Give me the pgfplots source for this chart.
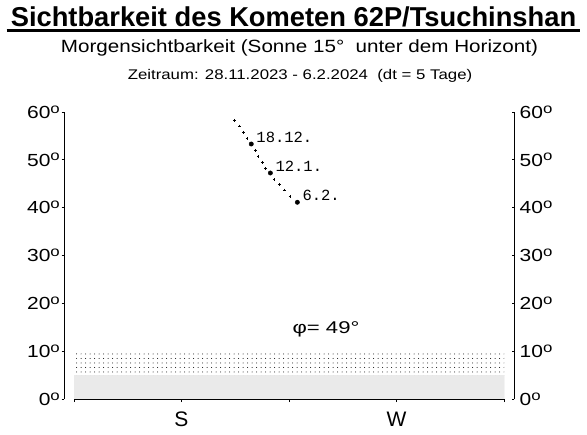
\documentclass[border=0pt]{standalone}
\usepackage{pgfplots}
\pgfplotsset{compat=1.18}
\usepackage{pgfplotstable}
\usepackage{fontspec}
\setmainfont{Liberation Sans}
\setmonofont{Liberation Mono}
\newfontfamily\wide{Liberation Sans}[FakeStretch=1.2]
\newfontfamily\wideB{Liberation Sans}[FakeStretch=1.165]
\newfontfamily\wideC{Liberation Sans}[FakeStretch=1.3]
\usetikzlibrary{patterns.meta}
\newcommand\dg{\raisebox{0.3em}{\scalebox{0.8}{o}}}

\pgfplotstableread{
az alt
202.1 58.27
204.2 57.08
205.9 55.76
207.5 54.50
209.2 53.31
210.9 52.00
212.1 50.74
213.8 49.49
215.2 48.23
217.2 47.25
218.8 45.93
220.9 44.89
223.0 43.70
225.4 42.38
228.5 41.13
}\track

\pgfplotstableread{
az alt label
209.2 53.31 18.12.
217.2 47.25 12.1.
228.5 41.13 6.2.
}\dates

\begin{document}
\begin{tikzpicture}[x=1bp,y=1bp]
\useasboundingbox (0bp,0bp) rectangle (587bp,435bp);
\node[anchor=base, inner sep=0] at (293.5bp,408.3bp) {\fontsize{27.3bp}{30bp}\selectfont\bfseries Sichtbarkeit des Kometen 62P/Tsuchinshan};
\draw[line width=2.7bp] (6.7bp,404.3bp) -- (580bp,404.3bp);
\node[anchor=base, inner sep=0] at (299.5bp,382.3bp) {\fontsize{17.7bp}{20bp}\selectfont\wideB Morgensichtbarkeit (Sonne 15°\ \ unter dem Horizont)};
\node[anchor=base, inner sep=0] at (300bp,355.7bp) {\fontsize{14bp}{16bp}\selectfont\wide Zeitraum: 28.11.2023 - 6.2.2024\ \ (dt = 5 Tage)};

% left y axis
\begin{axis}[at={(64bp,36bp)}, anchor=south west, scale only axis,
  width=450bp, height=287bp, xmin=0, xmax=1, ymin=0, ymax=60,
  axis x line=none, axis y line*=left, y axis line style={-, line width=0.8bp},
  ytick={0,10,20,30,40,50,60},
  yticklabels={0\dg,10\dg,20\dg,30\dg,40\dg,50\dg,60\dg},
  tick align=outside, major tick length=2.5bp,
  every tick/.style={black, line width=0.8bp},
  yticklabel style={font=\fontsize{17.5bp}{19bp}\selectfont\wide, inner sep=0pt, anchor=east, xshift=-1.5bp}]
\end{axis}
% right y axis
\begin{axis}[at={(64bp,36bp)}, anchor=south west, scale only axis,
  width=450bp, height=287bp, xmin=0, xmax=1, ymin=0, ymax=60,
  axis x line=none, axis y line*=right, y axis line style={-, line width=0.8bp},
  ytick={0,10,20,30,40,50,60},
  yticklabels={0\dg,10\dg,20\dg,30\dg,40\dg,50\dg,60\dg},
  tick align=inside, major tick length=2.5bp,
  every tick/.style={black, line width=0.8bp},
  yticklabel style={font=\fontsize{17.5bp}{19bp}\selectfont\wide, inner sep=0pt, anchor=west, xshift=5.5bp}]
\end{axis}
% main axis
\begin{axis}[at={(74bp,36bp)}, anchor=south west, scale only axis,
  width=430bp, height=287bp, xmin=135, xmax=315, ymin=0, ymax=60,
  axis y line=none, axis x line*=bottom, x axis line style={-, line width=0.8bp},
  xtick={135,180,225,270,315}, xticklabels={,S,,W,},
  tick align=outside, major tick length=3bp,
  every tick/.style={black, line width=0.8bp},
  xticklabel style={font=\fontsize{21bp}{23bp}\selectfont, inner sep=0pt, anchor=base, yshift=-24.3bp},
  clip=false]
\addplot[draw=none, pattern={Dots[distance=2bp, radius=0.42bp]}, pattern color=black]
  coordinates {(135,0) (135,5) (315,5) (315,0)} -- cycle;
\addplot[draw=none, pattern={Dots[distance=4.5bp, radius=0.5bp]}, pattern color=black]
  coordinates {(135,5) (135,9.5) (315,9.5) (315,5)} -- cycle;
\addplot[only marks, mark=+, mark size=1.3bp, mark options={line width=0.6bp}, black] table[x=az, y=alt] {\track};
\addplot[only marks, mark=*, mark size=2.2bp, black,
  nodes near coords, point meta=explicit symbolic,
  nodes near coords style={anchor=west, inner sep=0pt, xshift=5bp, yshift=7bp, font=\fontsize{15.5bp}{17bp}\selectfont\ttfamily, black}]
  table[x=az, y=alt, meta=label] {\dates};
\node[font=\fontsize{17bp}{19bp}\selectfont\wideC, inner sep=0pt] at (axis cs:240.5,14.53) {φ= 49°};
\end{axis}
\end{tikzpicture}
\end{document}
